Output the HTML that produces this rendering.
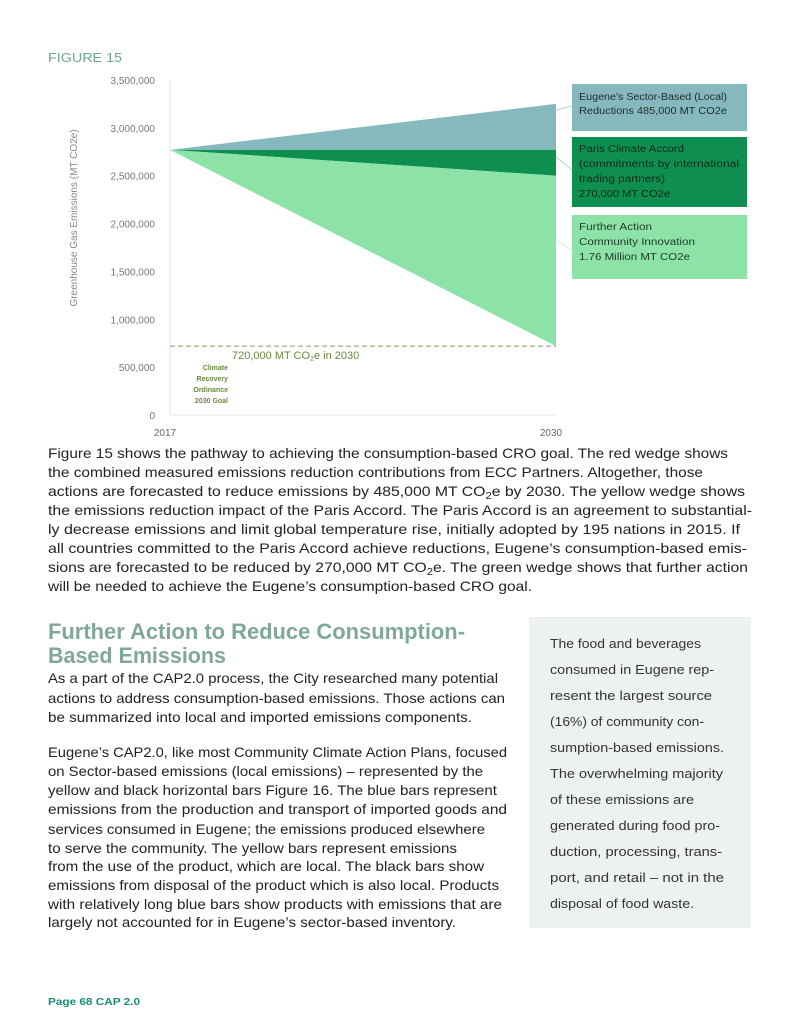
<!DOCTYPE html>
<html><head><meta charset="utf-8"><style>
html,body{margin:0;padding:0;background:#fff;}
svg{display:block;font-family:"Liberation Sans",sans-serif;}
</style></head><body>
<svg id="page" width="800" height="1035" viewBox="0 0 800 1035" xmlns="http://www.w3.org/2000/svg">
<text x="48" y="62" font-size="13" fill="#6aa894" textLength="74" lengthAdjust="spacingAndGlyphs">FIGURE 15</text>
<g id="chart"></g>
<text transform="translate(77,218) rotate(-90)" text-anchor="middle" font-size="10" fill="#888">Greenhouse Gas Emissions (MT CO2e)</text>

<g>
<rect x="572" y="84" width="175" height="47" fill="#86b9bd"/>
<line x1="556" y1="110" x2="572" y2="106" stroke="#b7cfd0" stroke-width="1"/>
<text x="579" y="100" font-size="10" fill="#1f2d2d" textLength="148" lengthAdjust="spacingAndGlyphs">Eugene's Sector-Based (Local)</text>
<text x="579" y="114" font-size="10" fill="#1f2d2d" textLength="148" lengthAdjust="spacingAndGlyphs">Reductions 485,000 MT CO2e</text>
</g>
<g>
<rect x="572" y="137" width="175" height="70" fill="#0e8f4f"/>
<line x1="556" y1="157" x2="572" y2="170" stroke="#a5d6c4" stroke-width="1"/>
<text x="579" y="152" font-size="10" fill="#0d2a18" textLength="105" lengthAdjust="spacingAndGlyphs">Paris Climate Accord</text>
<text x="579" y="167" font-size="10" fill="#0d2a18" textLength="160" lengthAdjust="spacingAndGlyphs">(commitments by international</text>
<text x="579" y="182" font-size="10" fill="#0d2a18" textLength="86" lengthAdjust="spacingAndGlyphs">trading partners)</text>
<text x="579" y="197" font-size="10" fill="#0d2a18" textLength="91" lengthAdjust="spacingAndGlyphs">270,000 MT CO2e</text>
</g>
<g>
<rect x="572" y="215" width="175" height="64" fill="#8de2a8"/>
<line x1="556" y1="240" x2="572" y2="250" stroke="#c5eed6" stroke-width="1"/>
<text x="579" y="230" font-size="10" fill="#1f3a28" textLength="73" lengthAdjust="spacingAndGlyphs">Further Action</text>
<text x="579" y="245" font-size="10" fill="#1f3a28" textLength="116" lengthAdjust="spacingAndGlyphs">Community Innovation</text>
<text x="579" y="260" font-size="10" fill="#1f3a28" textLength="111" lengthAdjust="spacingAndGlyphs">1.76 Million MT CO2e</text>
</g>

<g font-size="14" fill="#222">
<text x="48" y="458" textLength="680" lengthAdjust="spacingAndGlyphs">Figure 15 shows the pathway to achieving the consumption-based CRO goal. The red wedge shows</text>
<text x="48" y="477" textLength="655" lengthAdjust="spacingAndGlyphs">the combined measured emissions reduction contributions from ECC Partners. Altogether, those</text>
<text x="48" y="496" textLength="697" lengthAdjust="spacingAndGlyphs">actions are forecasted to reduce emissions by 485,000 MT CO<tspan font-size="10" dy="3">2</tspan><tspan dy="-3">e by 2030. The yellow wedge shows</tspan></text>
<text x="48" y="515" textLength="704" lengthAdjust="spacingAndGlyphs">the emissions reduction impact of the Paris Accord. The Paris Accord is an agreement to substantial-</text>
<text x="48" y="534" textLength="692" lengthAdjust="spacingAndGlyphs">ly decrease emissions and limit global temperature rise, initially adopted by 195 nations in 2015. If</text>
<text x="48" y="553" textLength="699" lengthAdjust="spacingAndGlyphs">all countries committed to the Paris Accord achieve reductions, Eugene’s consumption-based emis-</text>
<text x="48" y="572" textLength="700" lengthAdjust="spacingAndGlyphs">sions are forecasted to be reduced by 270,000 MT CO<tspan font-size="10" dy="3">2</tspan><tspan dy="-3">e. The green wedge shows that further action</tspan></text>
<text x="48" y="591" textLength="484" lengthAdjust="spacingAndGlyphs">will be needed to achieve the Eugene’s consumption-based CRO goal.</text>
</g>

<g font-size="22" font-weight="bold" fill="#7fa897">
<text x="48" y="639" textLength="417" lengthAdjust="spacingAndGlyphs">Further Action to Reduce Consumption-</text>
<text x="48" y="663" textLength="178" lengthAdjust="spacingAndGlyphs">Based Emissions</text>
</g>

<g font-size="14" fill="#222">
<text x="48" y="683" textLength="450" lengthAdjust="spacingAndGlyphs">As a part of the CAP2.0 process, the City researched many potential</text>
<text x="48" y="703" textLength="457" lengthAdjust="spacingAndGlyphs">actions to address consumption-based emissions. Those actions can</text>
<text x="48" y="722" textLength="424" lengthAdjust="spacingAndGlyphs">be summarized into local and imported emissions components.</text>
<text x="48" y="757" textLength="459" lengthAdjust="spacingAndGlyphs">Eugene’s CAP2.0, like most Community Climate Action Plans, focused</text>
<text x="48" y="776" textLength="435" lengthAdjust="spacingAndGlyphs">on Sector-based emissions (local emissions) – represented by the</text>
<text x="48" y="795" textLength="449" lengthAdjust="spacingAndGlyphs">yellow and black horizontal bars Figure 16. The blue bars represent</text>
<text x="48" y="814" textLength="459" lengthAdjust="spacingAndGlyphs">emissions from the production and transport of imported goods and</text>
<text x="48" y="834" textLength="437" lengthAdjust="spacingAndGlyphs">services consumed in Eugene; the emissions produced elsewhere</text>
<text x="48" y="853" textLength="409" lengthAdjust="spacingAndGlyphs">to serve the community. The yellow bars represent emissions</text>
<text x="48" y="871" textLength="436" lengthAdjust="spacingAndGlyphs">from the use of the product, which are local. The black bars show</text>
<text x="48" y="890" textLength="451" lengthAdjust="spacingAndGlyphs">emissions from disposal of the product which is also local. Products</text>
<text x="48" y="909" textLength="454" lengthAdjust="spacingAndGlyphs">with relatively long blue bars show products with emissions that are</text>
<text x="48" y="927" textLength="408" lengthAdjust="spacingAndGlyphs">largely not accounted for in Eugene’s sector-based inventory.</text>
</g>

<g>
<rect x="529" y="617" width="222" height="311" fill="#edf1ef"/>
<g font-size="13" fill="#333">
<text x="550" y="648" textLength="151" lengthAdjust="spacingAndGlyphs">The food and beverages</text>
<text x="550" y="674" textLength="164" lengthAdjust="spacingAndGlyphs">consumed in Eugene rep-</text>
<text x="550" y="700" textLength="162" lengthAdjust="spacingAndGlyphs">resent the largest source</text>
<text x="550" y="726" textLength="154" lengthAdjust="spacingAndGlyphs">(16%) of community con-</text>
<text x="550" y="752" textLength="174" lengthAdjust="spacingAndGlyphs">sumption-based emissions.</text>
<text x="550" y="778" textLength="173" lengthAdjust="spacingAndGlyphs">The overwhelming majority</text>
<text x="550" y="804" textLength="144" lengthAdjust="spacingAndGlyphs">of these emissions are</text>
<text x="550" y="830" textLength="170" lengthAdjust="spacingAndGlyphs">generated during food pro-</text>
<text x="550" y="856" textLength="172" lengthAdjust="spacingAndGlyphs">duction, processing, trans-</text>
<text x="550" y="882" textLength="174" lengthAdjust="spacingAndGlyphs">port, and retail – not in the</text>
<text x="550" y="908" textLength="144" lengthAdjust="spacingAndGlyphs">disposal of food waste.</text>
</g>
</g>

<text x="48" y="1005" font-size="10" font-weight="bold" fill="#1a8a78" textLength="92" lengthAdjust="spacingAndGlyphs">Page 68 CAP 2.0</text>
</svg>
<script>
const years = ["2017", "2030"];
const baseline = [2770000, 3250000];
const parisTop = [2770000, 2770000];
const parisBottom = [2770000, 2500000];
const croTarget = [2770000, 720000];
const goalValue = 720000;
const yTicks = [0, 500000, 1000000, 1500000, 2000000, 2500000, 3000000, 3500000];
const yTickLabels = ["0", "500,000", "1,000,000", "1,500,000", "2,000,000", "2,500,000", "3,000,000", "3,500,000"];

const NS = "http://www.w3.org/2000/svg";
const chart = document.getElementById("chart");
function x(i){ return 170 + i * (556 - 170) / (years.length - 1); }
function y(v){ return 415 - v * 335 / 3500000; }
function mk(tag, attrs, parent){
  const e = document.createElementNS(NS, tag);
  for (const k in attrs) e.setAttribute(k, attrs[k]);
  (parent || chart).appendChild(e);
  return e;
}
function band(top, bot, fill, name){
  let d = "M" + x(0) + "," + y(top[0]);
  for (let i = 1; i < top.length; i++) d += " L" + x(i) + "," + y(top[i]);
  for (let i = bot.length - 1; i >= 0; i--) d += " L" + x(i) + "," + y(bot[i]);
  const p = mk("path", {d: d + " Z", fill: fill});
  
  
}
// axis line
const ax = mk("line", {x1: 170, y1: y(3500000), x2: 170, y2: 415, stroke: "#e4e4e4", "stroke-width": 1});


const bx = mk("line", {x1: 170, y1: 415, x2: 556, y2: 415, stroke: "#e4e4e4", "stroke-width": 1});


yTicks.forEach((v, i) => {
  const t = mk("text", {x: 155, y: y(v) + 4, "text-anchor": "end", "font-size": 10, fill: "#777"});
  t.textContent = yTickLabels[i];
  
  
});
years.forEach((yr, i) => {
  const t = mk("text", {x: x(i) - 5, y: 436, "text-anchor": "middle", "font-size": 10, fill: "#666"});
  t.textContent = yr;
  
  
});
band(baseline, parisTop, "#86b9bd", "sector-based-wedge");
band(parisTop, parisBottom, "#0e8f4f", "paris-accord-wedge");
band(parisBottom, croTarget, "#8de2a8", "further-action-wedge");
const gl = mk("line", {x1: 170, y1: y(goalValue), x2: 556, y2: y(goalValue), stroke: "#8a9a70", "stroke-width": 1, "stroke-dasharray": "5,3"});


const gt = mk("text", {x: 232, y: y(goalValue) + 13, "font-size": 11, fill: "#6a8a3a"});
gt.innerHTML = '720,000 MT CO<tspan font-size="7" dy="2">2</tspan><tspan dy="-2">e in 2030</tspan>';


["Climate", "Recovery", "Ordinance", "2030 Goal"].forEach((s, i) => {
  const t = mk("text", {x: 228, y: 370 + i * 11, "text-anchor": "end", "font-size": 7, "font-weight": "bold", fill: "#6a8a3a"});
  t.textContent = s;
  
  
});
</script>
</body></html>
